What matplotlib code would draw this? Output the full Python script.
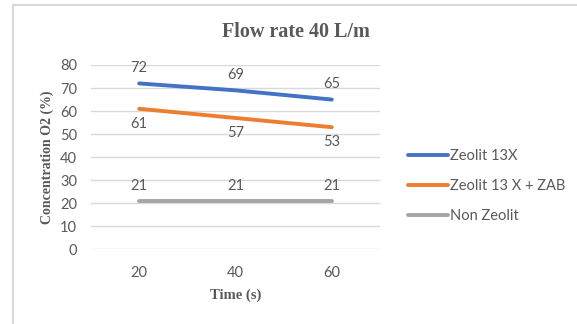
import matplotlib.pyplot as plt
from matplotlib.patches import Rectangle
import matplotlib as mpl

mpl.rcParams["font.family"] = "Lato"

C_TEXT = "#595959"
C_GRID = "#D9D9D9"

times = ["20", "40", "60"]
zeolit_13x = [72, 69, 65]
zeolit_13x_zab = [61, 57, 53]
non_zeolit = [21, 21, 21]

series_names = ["Zeolit 13X", "Zeolit 13 X + ZAB", "Non Zeolit"]
series_colors = ["#4472C4", "#ED7D31", "#A5A5A5"]
label_offsets = [11, -11, 11]  # above / below / above


def draw():
    fig = plt.figure(figsize=(5.77, 3.24), dpi=100)
    fig.patch.set_facecolor("white")

    # light chart-area border, as in the Excel export
    fig.add_artist(Rectangle((13 / 577, -0.05), 1.2, 1.05 - 5 / 324,
                             transform=fig.transFigure, fill=False,
                             ec=C_GRID, lw=1.5))

    ax = fig.add_axes([91 / 577, 1 - 249.3 / 324, 289 / 577, (249.3 - 65) / 324])
    x = list(range(len(times)))

    for vals, name, col, off in zip([zeolit_13x, zeolit_13x_zab, non_zeolit],
                                    series_names, series_colors, label_offsets):
        ax.plot(x, vals, color=col, lw=2.8, solid_capstyle="round",
                label=name, zorder=3)
        for xi, v in zip(x, vals):
            ax.annotate(str(v), (xi, v), xytext=(0, off),
                        textcoords="offset points", ha="center", va="center",
                        fontsize=10.5, color=C_TEXT)

    ax.set_xlim(-0.5, len(times) - 0.5)
    ax.set_ylim(0, 80)
    ax.set_yticks(range(0, 81, 10))
    ax.set_xticks(x)
    ax.set_xticklabels(times)
    ax.yaxis.grid(True, color=C_GRID, lw=1.0)
    ax.set_axisbelow(True)
    for s in ax.spines.values():
        s.set_visible(False)
    ax.tick_params(length=0, labelsize=10.5, labelcolor=C_TEXT)
    ax.tick_params(axis="x", pad=12)
    ax.tick_params(axis="y", pad=10)

    ax.set_xlabel("Time (s)", family="Liberation Serif", fontweight="bold",
                  fontsize=10.5, color=C_TEXT, labelpad=6)
    ax.set_ylabel("Concentration O2 (%)", family="Liberation Serif",
                  fontweight="bold", fontsize=10, color=C_TEXT, labelpad=4)

    fig.text(296 / 577, 1 - 32 / 324, "Flow rate 40 L/m",
             family="Liberation Serif", fontweight="bold", fontsize=14.5,
             color=C_TEXT, ha="center", va="center")

    fig.legend(loc="center left", bbox_to_anchor=(408 / 577, 1 - 186 / 324),
               frameon=False, fontsize=10.5, labelcolor=C_TEXT,
               handlelength=2.75, handletextpad=0.15, labelspacing=1.1,
               borderpad=0, borderaxespad=0)

    fig.savefig("out.png", dpi=100, facecolor="white")
    plt.close(fig)


if __name__ == "__main__":
    draw()
